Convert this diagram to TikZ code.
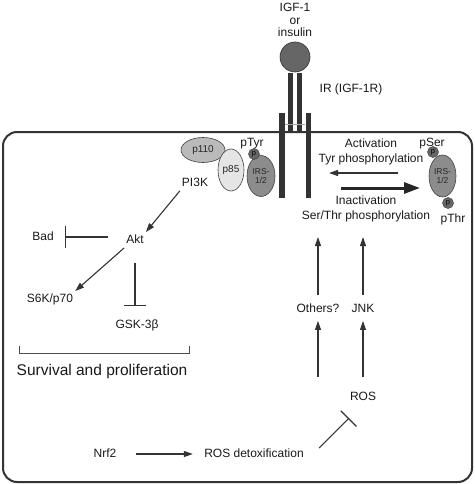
\documentclass[tikz,border=0pt]{standalone}
\usepackage{fontspec}
\setmainfont{Liberation Sans}
\usetikzlibrary{arrows.meta,shapes.geometric,calc}
\begin{document}
\begin{tikzpicture}[x=1pt,y=-1pt,
  lbl/.style={font=\fontsize{12}{15}\selectfont, text=black!90, inner sep=2pt, text height=9pt, text depth=2.5pt},
  mlbl/.style={font=\fontsize{12}{15.5}\selectfont, text=black!90, inner sep=2pt, align=center},
  act/.style={draw=black!80, line width=1.1pt, -{Triangle[length=9pt,width=6pt]}},
  bigact/.style={draw=black!85, line width=3pt, -{Triangle[length=16pt,width=11pt]}},
  inh/.style={draw=black!80, line width=1.1pt, -{Bar[width=22pt,line width=1.1pt]}},
  prot/.style={ellipse, draw=black!75, line width=0.6pt, inner sep=0pt, text=black!85, font=\fontsize{10}{10}\selectfont},
  irs/.style={prot, fill=black!45, font=\fontsize{8.5}{9.5}\selectfont, align=center},
  phos/.style={circle, draw=black!75, fill=black!60, line width=0.5pt, minimum size=11pt, inner sep=0pt, font=\fontsize{7.5}{7.5}\selectfont},
  rbar/.style={fill=black!80, draw=none},
  membrane/.style={draw=black!80, line width=2pt, rounded corners=14pt}]
\useasboundingbox (0,0) rectangle (474,484);

% cell membrane
\draw[membrane] (3,132) rectangle (472,482);

% receptor
\fill[rbar] (288,73) rectangle (293,132);
\fill[rbar] (297,73) rectangle (302,132);
\draw[black!35, line width=0.8pt] (284,124) -- (305,124);
\fill[rbar] (279,113) rectangle (284.5,198);
\fill[rbar] (305.5,113) rectangle (311,198);
\node[circle, draw=black!80, fill=black!60, minimum size=30pt, inner sep=0pt, line width=0.6pt] (ligand) at (295,57) {};
\node[mlbl, font=\fontsize{12}{12.5}\selectfont] (igf) at (295,20) {IGF-1\\or\\insulin};
\node[lbl] (ir) at (351,89) {IR (IGF-1R)};

% PI3K complex
\node[prot, fill=black!27, minimum width=44pt, minimum height=25pt] (p110) at (203,150) {p110};
\node[prot, fill=black!10, minimum width=26pt, minimum height=42pt] (p85) at (231,170) {p85};
\node[irs, minimum width=28pt, minimum height=41pt] (irsL) at (261,176) {IRS-\\1/2};
\node[phos] (pL) at (254,154) {p};
\node[lbl] (ptyr) at (252,143) {pTyr};
\node[lbl] (pi3k) at (195,183) {PI3K};

% right IRS
\node[mlbl] (actlbl) at (371,152) {Activation\\Tyr phosphorylation};
\node[mlbl] (inactlbl) at (366,209) {Inactivation\\Ser/Thr phosphorylation};
\node[irs, minimum width=27pt, minimum height=42pt] (irsR) at (442.5,176) {IRS-\\1/2};
\node[phos] (pS) at (433,152) {p};
\node[phos] (pT) at (448,203) {p};
\node[lbl] (pser) at (432,143) {pSer};
\node[lbl] (pthr) at (453,219) {pThr};
\coordinate (tyrS) at (398,173);
\coordinate (tyrE) at (329,173);
\coordinate (serS) at (341,188);
\coordinate (serE) at (420,188);
\draw[act] (tyrS) -- (tyrE);
\draw[bigact] (serS) -- (serE);

% Akt pathway
\node[lbl] (akt) at (135,240) {Akt};
\node[lbl] (bad) at (43,237) {Bad};
\node[lbl] (s6k) at (50,299) {S6K/p70};
\node[lbl] (gsk) at (137,325) {GSK-3β};
\draw[act] (pi3k.south west) -- (akt.north east);
\draw[act] (akt.south west) -- (s6k.north east);
\draw[inh, shorten <=16.5pt, shorten >=9pt] (bad.east -| akt.west) -- (bad.east);
\draw[inh, shorten <=15pt, shorten >=11pt] (akt.south) -- (gsk.north -| akt.south);

% survival
\draw[black!70, line width=1pt] (19,346) -- (19,353) -- (189,353) -- (189,346);
\node[font=\fontsize{15.5}{16}\selectfont, text=black!90, inner sep=0pt] (surv) at (102,371) {Survival and proliferation};

% ROS
\node[lbl] (nrf2) at (105,454) {Nrf2};
\node[lbl] (detox) at (254,454) {ROS detoxification};
\node[lbl] (ros) at (363,397) {ROS};
\node[lbl] (others) at (318,309) {Others?};
\node[lbl] (jnk) at (363,309) {JNK};
\coordinate (othT) at (318,237);
\coordinate (jnkT) at (363,237);
\draw[act, shorten <=17.7pt, shorten >=9.3pt] (nrf2.east) -- (detox.west);
\draw[inh] ([xshift=13.3pt,yshift=6pt]detox.east) -- ([xshift=-14pt,yshift=-13.25pt]ros.south);
\draw[act, shorten <=12pt, shorten >=4pt] (ros.north) -- (jnk.south);
\draw[act, shorten <=12pt, shorten >=4pt] (others.south |- ros.north) -- (others.south);
\draw[act, shorten <=6pt] (jnk.north) -- (jnkT);
\draw[act, shorten <=6pt] (others.north) -- (othT);
\end{tikzpicture}
\end{document}
